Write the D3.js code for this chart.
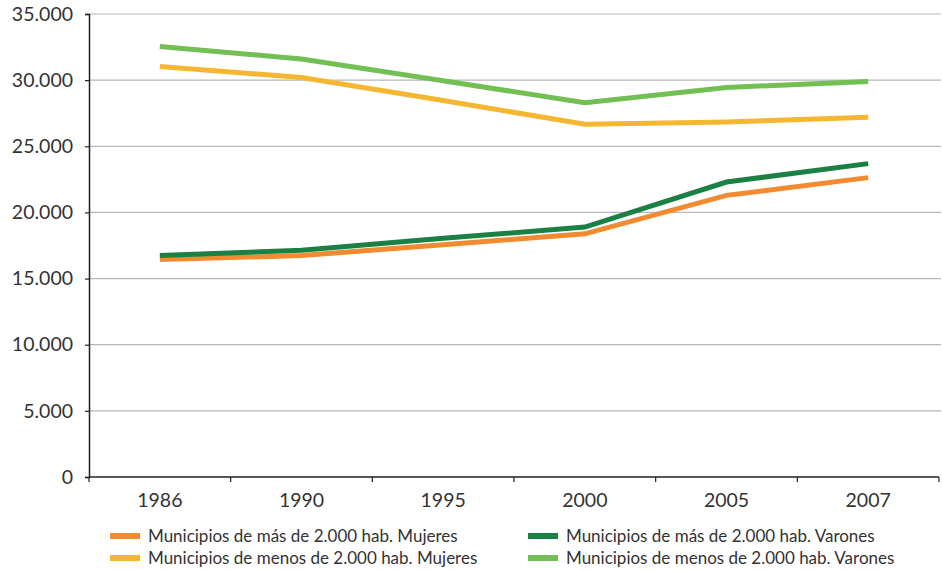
<!DOCTYPE html>
<html>
<head>
<meta charset="utf-8">
<script src="https://cdn.jsdelivr.net/npm/d3@7/dist/d3.min.js"></script>
<style>
  html, body { margin: 0; padding: 0; background: #fff; }
  svg { display: block; font-family: Lato, "Open Sans", sans-serif; }
</style>
</head>
<body>
<svg id="chart" width="942" height="570"></svg>
<script>
// Años
const years = ["1986", "1990", "1995", "2000", "2005", "2007"];

// Series
const masMujeres   = [16440, 16740, 17560, 18380, 21290, 22630];
const masVarones   = [16740, 17140, 18050, 18890, 22300, 23690];
const menosMujeres = [31040, 30200, 28460, 26670, 26840, 27200];
const menosVarones = [32550, 31600, 29950, 28300, 29450, 29900];

const seriesNames = [
  "Municipios de más de 2.000 hab. Mujeres",
  "Municipios de más de 2.000 hab. Varones",
  "Municipios de menos de 2.000 hab. Mujeres",
  "Municipios de menos de 2.000 hab. Varones"
];
const seriesColors = ["#f28a30", "#1a8043", "#f5b731", "#72bf54"];

const yTicks = [0, 5000, 10000, 15000, 20000, 25000, 30000, 35000];

const series = [
  { name: seriesNames[0], color: seriesColors[0], values: masMujeres },
  { name: seriesNames[1], color: seriesColors[1], values: masVarones },
  { name: seriesNames[2], color: seriesColors[2], values: menosMujeres },
  { name: seriesNames[3], color: seriesColors[3], values: menosVarones }
];

const svg = d3.select("#chart");
const plotLeft = 89, plotRight = 939, plotTop = 14, plotBottom = 477;

const x = d3.scaleBand().domain(years).range([plotLeft, plotRight]);
const y = d3.scaleLinear().domain([0, 35000]).range([plotBottom, plotTop]);

const fmt = v => d3.format(",")(v).replace(/,/g, ".");

// Líneas de cuadrícula
svg.append("g")
  .selectAll("line")
  .data(yTicks.filter(t => t > 0))
  .join("line")
  .attr("x1", plotLeft).attr("x2", plotRight + 2)
  .attr("y1", d => y(d)).attr("y2", d => y(d))
  .attr("stroke", "#b9b9bb").attr("stroke-width", 1.2);

// Eje Y
const yAxis = svg.append("g")
  .attr("transform", `translate(${plotLeft},0)`)
  .call(d3.axisLeft(y).tickValues(yTicks).tickFormat(fmt).tickSize(4).tickPadding(12));
yAxis.select(".domain").attr("stroke", "#231f20").attr("stroke-width", 1.5);
yAxis.selectAll(".tick line").attr("stroke", "#231f20").attr("stroke-width", 1.2);
yAxis.selectAll(".tick text")
  .attr("fill", "#333").style("font-size", "19.5px").style("font-family", "Lato, sans-serif");

// Eje X
const xTickEdges = years.map(d => x(d)).concat([plotRight]);
const xAxisG = svg.append("g");
xAxisG.append("line")
  .attr("x1", plotLeft).attr("x2", plotRight)
  .attr("y1", plotBottom).attr("y2", plotBottom)
  .attr("stroke", "#231f20").attr("stroke-width", 1.5);
xAxisG.selectAll("line.tk")
  .data(xTickEdges)
  .join("line")
  .attr("class", "tk")
  .attr("x1", d => d).attr("x2", d => d)
  .attr("y1", plotBottom).attr("y2", plotBottom + 5)
  .attr("stroke", "#231f20").attr("stroke-width", 1.2);
xAxisG.selectAll("text")
  .data(years)
  .join("text")
  .attr("x", d => x(d) + x.bandwidth() / 2)
  .attr("y", 507)
  .attr("text-anchor", "middle")
  .attr("fill", "#333")
  .style("font-size", "19.5px")
  .text(d => d);

// Series de datos
const line = d3.line()
  .x((d, i) => x(years[i]) + x.bandwidth() / 2)
  .y(d => y(d));

svg.append("g")
  .selectAll("path")
  .data(series)
  .join("path")
  .attr("d", d => line(d.values))
  .attr("fill", "none")
  .attr("stroke", d => d.color)
  .attr("stroke-width", 5)
  .attr("stroke-linejoin", "miter");

// Leyenda
const legendPos = [
  { x: 110, y: 536 },
  { x: 528, y: 536 },
  { x: 110, y: 558 },
  { x: 528, y: 558 }
];
const legend = svg.append("g")
  .selectAll("g")
  .data(series)
  .join("g")
  .attr("transform", (d, i) => `translate(${legendPos[i].x},${legendPos[i].y})`);
legend.append("rect")
  .attr("x", 0).attr("y", -3)
  .attr("width", 30).attr("height", 6)
  .attr("fill", d => d.color);
legend.append("text")
  .attr("x", 38).attr("y", 6)
  .attr("fill", "#333")
  .style("font-size", "17px")
  .text(d => d.name);
</script>
</body>
</html>
